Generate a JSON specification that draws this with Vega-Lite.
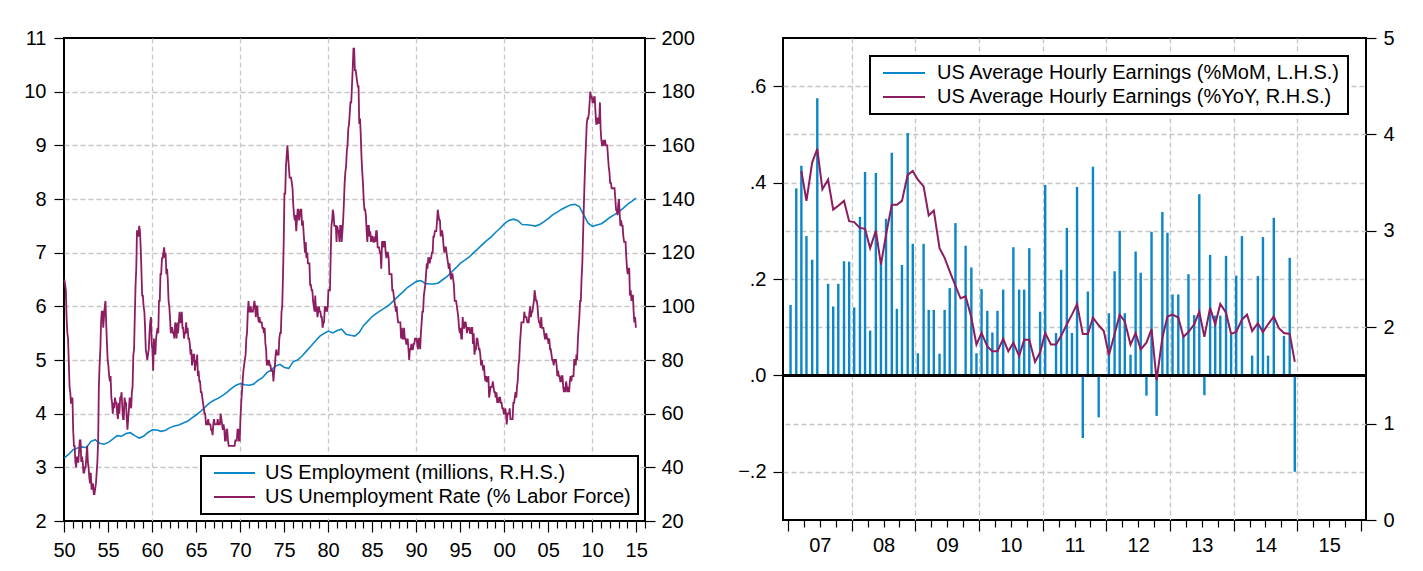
{
"$schema": "https://vega.github.io/schema/vega-lite/v6.json",
"background": "white",
"padding": {"left": 22, "top": 27, "right": 5, "bottom": 5},
"spacing": 40,
"datasets": {
"unemp": [
{"t":1950.04,"u":6.5},{"t":1950.13,"u":6.4},{"t":1950.21,"u":6.3},{"t":1950.29,"u":5.8},{"t":1950.38,"u":5.5},{"t":1950.46,"u":5.4},{"t":1950.54,"u":5.0},{"t":1950.63,"u":4.5},{"t":1950.71,"u":4.4},{"t":1950.79,"u":4.2},{"t":1950.88,"u":4.2},{"t":1950.96,"u":4.3},
{"t":1951.04,"u":3.7},{"t":1951.13,"u":3.4},{"t":1951.21,"u":3.4},{"t":1951.29,"u":3.1},{"t":1951.38,"u":3.0},{"t":1951.46,"u":3.2},{"t":1951.54,"u":3.1},{"t":1951.63,"u":3.1},{"t":1951.71,"u":3.3},{"t":1951.79,"u":3.5},{"t":1951.88,"u":3.5},{"t":1951.96,"u":3.1},
{"t":1952.04,"u":3.2},{"t":1952.13,"u":3.1},{"t":1952.21,"u":2.9},{"t":1952.29,"u":2.9},{"t":1952.38,"u":3.0},{"t":1952.46,"u":3.0},{"t":1952.54,"u":3.2},{"t":1952.63,"u":3.4},{"t":1952.71,"u":3.1},{"t":1952.79,"u":3.0},{"t":1952.88,"u":2.8},{"t":1952.96,"u":2.7},
{"t":1953.04,"u":2.9},{"t":1953.13,"u":2.6},{"t":1953.21,"u":2.6},{"t":1953.29,"u":2.7},{"t":1953.38,"u":2.5},{"t":1953.46,"u":2.5},{"t":1953.54,"u":2.6},{"t":1953.63,"u":2.7},{"t":1953.71,"u":2.9},{"t":1953.79,"u":3.1},{"t":1953.88,"u":3.5},{"t":1953.96,"u":4.5},
{"t":1954.04,"u":4.9},{"t":1954.13,"u":5.2},{"t":1954.21,"u":5.7},{"t":1954.29,"u":5.9},{"t":1954.38,"u":5.9},{"t":1954.46,"u":5.6},{"t":1954.54,"u":5.8},{"t":1954.63,"u":6.0},{"t":1954.71,"u":6.1},{"t":1954.79,"u":5.7},{"t":1954.88,"u":5.3},{"t":1954.96,"u":5.0},
{"t":1955.04,"u":4.9},{"t":1955.13,"u":4.7},{"t":1955.21,"u":4.6},{"t":1955.29,"u":4.7},{"t":1955.38,"u":4.3},{"t":1955.46,"u":4.2},{"t":1955.54,"u":4.0},{"t":1955.63,"u":4.2},{"t":1955.71,"u":4.1},{"t":1955.79,"u":4.3},{"t":1955.88,"u":4.2},{"t":1955.96,"u":4.2},
{"t":1956.04,"u":4.0},{"t":1956.13,"u":3.9},{"t":1956.21,"u":4.2},{"t":1956.29,"u":4.0},{"t":1956.38,"u":4.3},{"t":1956.46,"u":4.3},{"t":1956.54,"u":4.4},{"t":1956.63,"u":4.1},{"t":1956.71,"u":3.9},{"t":1956.79,"u":3.9},{"t":1956.88,"u":4.3},{"t":1956.96,"u":4.2},
{"t":1957.04,"u":4.2},{"t":1957.13,"u":3.9},{"t":1957.21,"u":3.7},{"t":1957.29,"u":3.9},{"t":1957.38,"u":4.1},{"t":1957.46,"u":4.3},{"t":1957.54,"u":4.2},{"t":1957.63,"u":4.1},{"t":1957.71,"u":4.4},{"t":1957.79,"u":4.5},{"t":1957.88,"u":5.1},{"t":1957.96,"u":5.2},
{"t":1958.04,"u":5.8},{"t":1958.13,"u":6.4},{"t":1958.21,"u":6.7},{"t":1958.29,"u":7.4},{"t":1958.38,"u":7.4},{"t":1958.46,"u":7.3},{"t":1958.54,"u":7.5},{"t":1958.63,"u":7.4},{"t":1958.71,"u":7.1},{"t":1958.79,"u":6.7},{"t":1958.88,"u":6.2},{"t":1958.96,"u":6.2},
{"t":1959.04,"u":6.0},{"t":1959.13,"u":5.9},{"t":1959.21,"u":5.6},{"t":1959.29,"u":5.2},{"t":1959.38,"u":5.1},{"t":1959.46,"u":5.0},{"t":1959.54,"u":5.1},{"t":1959.63,"u":5.2},{"t":1959.71,"u":5.5},{"t":1959.79,"u":5.7},{"t":1959.88,"u":5.8},{"t":1959.96,"u":5.3},
{"t":1960.04,"u":5.2},{"t":1960.13,"u":4.8},{"t":1960.21,"u":5.4},{"t":1960.29,"u":5.2},{"t":1960.38,"u":5.1},{"t":1960.46,"u":5.4},{"t":1960.54,"u":5.5},{"t":1960.63,"u":5.6},{"t":1960.71,"u":5.5},{"t":1960.79,"u":6.1},{"t":1960.88,"u":6.1},{"t":1960.96,"u":6.6},
{"t":1961.04,"u":6.6},{"t":1961.13,"u":6.9},{"t":1961.21,"u":6.9},{"t":1961.29,"u":7.0},{"t":1961.38,"u":7.1},{"t":1961.46,"u":6.9},{"t":1961.54,"u":7.0},{"t":1961.63,"u":6.6},{"t":1961.71,"u":6.7},{"t":1961.79,"u":6.5},{"t":1961.88,"u":6.1},{"t":1961.96,"u":6.0},
{"t":1962.04,"u":5.8},{"t":1962.13,"u":5.5},{"t":1962.21,"u":5.6},{"t":1962.29,"u":5.6},{"t":1962.38,"u":5.5},{"t":1962.46,"u":5.5},{"t":1962.54,"u":5.4},{"t":1962.63,"u":5.7},{"t":1962.71,"u":5.6},{"t":1962.79,"u":5.4},{"t":1962.88,"u":5.7},{"t":1962.96,"u":5.5},
{"t":1963.04,"u":5.7},{"t":1963.13,"u":5.9},{"t":1963.21,"u":5.7},{"t":1963.29,"u":5.7},{"t":1963.38,"u":5.9},{"t":1963.46,"u":5.6},{"t":1963.54,"u":5.6},{"t":1963.63,"u":5.4},{"t":1963.71,"u":5.5},{"t":1963.79,"u":5.5},{"t":1963.88,"u":5.7},{"t":1963.96,"u":5.5},
{"t":1964.04,"u":5.6},{"t":1964.13,"u":5.4},{"t":1964.21,"u":5.4},{"t":1964.29,"u":5.3},{"t":1964.38,"u":5.1},{"t":1964.46,"u":5.2},{"t":1964.54,"u":4.9},{"t":1964.63,"u":5.0},{"t":1964.71,"u":5.1},{"t":1964.79,"u":5.1},{"t":1964.88,"u":4.8},{"t":1964.96,"u":5.0},
{"t":1965.04,"u":4.9},{"t":1965.13,"u":5.1},{"t":1965.21,"u":4.7},{"t":1965.29,"u":4.8},{"t":1965.38,"u":4.6},{"t":1965.46,"u":4.6},{"t":1965.54,"u":4.4},{"t":1965.63,"u":4.4},{"t":1965.71,"u":4.3},{"t":1965.79,"u":4.2},{"t":1965.88,"u":4.1},{"t":1965.96,"u":4.0},
{"t":1966.04,"u":4.0},{"t":1966.13,"u":3.8},{"t":1966.21,"u":3.8},{"t":1966.29,"u":3.8},{"t":1966.38,"u":3.9},{"t":1966.46,"u":3.8},{"t":1966.54,"u":3.8},{"t":1966.63,"u":3.8},{"t":1966.71,"u":3.7},{"t":1966.79,"u":3.7},{"t":1966.88,"u":3.6},{"t":1966.96,"u":3.8},
{"t":1967.04,"u":3.9},{"t":1967.13,"u":3.8},{"t":1967.21,"u":3.8},{"t":1967.29,"u":3.8},{"t":1967.38,"u":3.8},{"t":1967.46,"u":3.9},{"t":1967.54,"u":3.8},{"t":1967.63,"u":3.8},{"t":1967.71,"u":3.8},{"t":1967.79,"u":4.0},{"t":1967.88,"u":3.9},{"t":1967.96,"u":3.8},
{"t":1968.04,"u":3.7},{"t":1968.13,"u":3.8},{"t":1968.21,"u":3.7},{"t":1968.29,"u":3.5},{"t":1968.38,"u":3.5},{"t":1968.46,"u":3.7},{"t":1968.54,"u":3.7},{"t":1968.63,"u":3.5},{"t":1968.71,"u":3.4},{"t":1968.79,"u":3.4},{"t":1968.88,"u":3.4},{"t":1968.96,"u":3.4},
{"t":1969.04,"u":3.4},{"t":1969.13,"u":3.4},{"t":1969.21,"u":3.4},{"t":1969.29,"u":3.4},{"t":1969.38,"u":3.4},{"t":1969.46,"u":3.5},{"t":1969.54,"u":3.5},{"t":1969.63,"u":3.5},{"t":1969.71,"u":3.7},{"t":1969.79,"u":3.7},{"t":1969.88,"u":3.5},{"t":1969.96,"u":3.5},
{"t":1970.04,"u":3.9},{"t":1970.13,"u":4.2},{"t":1970.21,"u":4.4},{"t":1970.29,"u":4.6},{"t":1970.38,"u":4.8},{"t":1970.46,"u":4.9},{"t":1970.54,"u":5.0},{"t":1970.63,"u":5.1},{"t":1970.71,"u":5.4},{"t":1970.79,"u":5.5},{"t":1970.88,"u":5.9},{"t":1970.96,"u":6.1},
{"t":1971.04,"u":5.9},{"t":1971.13,"u":5.9},{"t":1971.21,"u":6.0},{"t":1971.29,"u":5.9},{"t":1971.38,"u":5.9},{"t":1971.46,"u":5.9},{"t":1971.54,"u":6.0},{"t":1971.63,"u":6.1},{"t":1971.71,"u":6.0},{"t":1971.79,"u":5.8},{"t":1971.88,"u":6.0},{"t":1971.96,"u":6.0},
{"t":1972.04,"u":5.8},{"t":1972.13,"u":5.7},{"t":1972.21,"u":5.8},{"t":1972.29,"u":5.7},{"t":1972.38,"u":5.7},{"t":1972.46,"u":5.7},{"t":1972.54,"u":5.6},{"t":1972.63,"u":5.6},{"t":1972.71,"u":5.5},{"t":1972.79,"u":5.6},{"t":1972.88,"u":5.3},{"t":1972.96,"u":5.2},
{"t":1973.04,"u":4.9},{"t":1973.13,"u":5.0},{"t":1973.21,"u":4.9},{"t":1973.29,"u":5.0},{"t":1973.38,"u":4.9},{"t":1973.46,"u":4.9},{"t":1973.54,"u":4.8},{"t":1973.63,"u":4.8},{"t":1973.71,"u":4.8},{"t":1973.79,"u":4.6},{"t":1973.88,"u":4.8},{"t":1973.96,"u":4.9},
{"t":1974.04,"u":5.1},{"t":1974.13,"u":5.2},{"t":1974.21,"u":5.1},{"t":1974.29,"u":5.1},{"t":1974.38,"u":5.1},{"t":1974.46,"u":5.4},{"t":1974.54,"u":5.5},{"t":1974.63,"u":5.5},{"t":1974.71,"u":5.9},{"t":1974.79,"u":6.0},{"t":1974.88,"u":6.6},{"t":1974.96,"u":7.2},
{"t":1975.04,"u":8.1},{"t":1975.13,"u":8.1},{"t":1975.21,"u":8.6},{"t":1975.29,"u":8.8},{"t":1975.38,"u":9.0},{"t":1975.46,"u":8.8},{"t":1975.54,"u":8.6},{"t":1975.63,"u":8.4},{"t":1975.71,"u":8.4},{"t":1975.79,"u":8.4},{"t":1975.88,"u":8.3},{"t":1975.96,"u":8.2},
{"t":1976.04,"u":7.9},{"t":1976.13,"u":7.7},{"t":1976.21,"u":7.6},{"t":1976.29,"u":7.7},{"t":1976.38,"u":7.4},{"t":1976.46,"u":7.6},{"t":1976.54,"u":7.8},{"t":1976.63,"u":7.8},{"t":1976.71,"u":7.6},{"t":1976.79,"u":7.7},{"t":1976.88,"u":7.8},{"t":1976.96,"u":7.8},
{"t":1977.04,"u":7.5},{"t":1977.13,"u":7.6},{"t":1977.21,"u":7.4},{"t":1977.29,"u":7.2},{"t":1977.38,"u":7.0},{"t":1977.46,"u":7.2},{"t":1977.54,"u":6.9},{"t":1977.63,"u":7.0},{"t":1977.71,"u":6.8},{"t":1977.79,"u":6.8},{"t":1977.88,"u":6.8},{"t":1977.96,"u":6.4},
{"t":1978.04,"u":6.4},{"t":1978.13,"u":6.3},{"t":1978.21,"u":6.3},{"t":1978.29,"u":6.1},{"t":1978.38,"u":6.0},{"t":1978.46,"u":5.9},{"t":1978.54,"u":6.2},{"t":1978.63,"u":5.9},{"t":1978.71,"u":6.0},{"t":1978.79,"u":5.8},{"t":1978.88,"u":5.9},{"t":1978.96,"u":6.0},
{"t":1979.04,"u":5.9},{"t":1979.13,"u":5.9},{"t":1979.21,"u":5.8},{"t":1979.29,"u":5.8},{"t":1979.38,"u":5.6},{"t":1979.46,"u":5.7},{"t":1979.54,"u":5.7},{"t":1979.63,"u":6.0},{"t":1979.71,"u":5.9},{"t":1979.79,"u":6.0},{"t":1979.88,"u":5.9},{"t":1979.96,"u":6.0},
{"t":1980.04,"u":6.3},{"t":1980.13,"u":6.3},{"t":1980.21,"u":6.3},{"t":1980.29,"u":6.9},{"t":1980.38,"u":7.5},{"t":1980.46,"u":7.6},{"t":1980.54,"u":7.8},{"t":1980.63,"u":7.7},{"t":1980.71,"u":7.5},{"t":1980.79,"u":7.5},{"t":1980.88,"u":7.5},{"t":1980.96,"u":7.2},
{"t":1981.04,"u":7.5},{"t":1981.13,"u":7.4},{"t":1981.21,"u":7.4},{"t":1981.29,"u":7.2},{"t":1981.38,"u":7.5},{"t":1981.46,"u":7.5},{"t":1981.54,"u":7.2},{"t":1981.63,"u":7.4},{"t":1981.71,"u":7.6},{"t":1981.79,"u":7.9},{"t":1981.88,"u":8.3},{"t":1981.96,"u":8.5},
{"t":1982.04,"u":8.6},{"t":1982.13,"u":8.9},{"t":1982.21,"u":9.0},{"t":1982.29,"u":9.3},{"t":1982.38,"u":9.4},{"t":1982.46,"u":9.6},{"t":1982.54,"u":9.8},{"t":1982.63,"u":9.8},{"t":1982.71,"u":10.1},{"t":1982.79,"u":10.4},{"t":1982.88,"u":10.8},{"t":1982.96,"u":10.8},
{"t":1983.04,"u":10.4},{"t":1983.13,"u":10.4},{"t":1983.21,"u":10.3},{"t":1983.29,"u":10.2},{"t":1983.38,"u":10.1},{"t":1983.46,"u":10.1},{"t":1983.54,"u":9.4},{"t":1983.63,"u":9.5},{"t":1983.71,"u":9.2},{"t":1983.79,"u":8.8},{"t":1983.88,"u":8.5},{"t":1983.96,"u":8.3},
{"t":1984.04,"u":8.0},{"t":1984.13,"u":7.8},{"t":1984.21,"u":7.8},{"t":1984.29,"u":7.7},{"t":1984.38,"u":7.4},{"t":1984.46,"u":7.2},{"t":1984.54,"u":7.5},{"t":1984.63,"u":7.5},{"t":1984.71,"u":7.3},{"t":1984.79,"u":7.4},{"t":1984.88,"u":7.2},{"t":1984.96,"u":7.3},
{"t":1985.04,"u":7.3},{"t":1985.13,"u":7.2},{"t":1985.21,"u":7.2},{"t":1985.29,"u":7.3},{"t":1985.38,"u":7.2},{"t":1985.46,"u":7.4},{"t":1985.54,"u":7.4},{"t":1985.63,"u":7.1},{"t":1985.71,"u":7.1},{"t":1985.79,"u":7.1},{"t":1985.88,"u":7.0},{"t":1985.96,"u":7.0},
{"t":1986.04,"u":6.7},{"t":1986.13,"u":7.2},{"t":1986.21,"u":7.2},{"t":1986.29,"u":7.1},{"t":1986.38,"u":7.2},{"t":1986.46,"u":7.2},{"t":1986.54,"u":7.0},{"t":1986.63,"u":6.9},{"t":1986.71,"u":7.0},{"t":1986.79,"u":7.0},{"t":1986.88,"u":6.9},{"t":1986.96,"u":6.6},
{"t":1987.04,"u":6.6},{"t":1987.13,"u":6.6},{"t":1987.21,"u":6.6},{"t":1987.29,"u":6.3},{"t":1987.38,"u":6.3},{"t":1987.46,"u":6.2},{"t":1987.54,"u":6.1},{"t":1987.63,"u":6.0},{"t":1987.71,"u":5.9},{"t":1987.79,"u":6.0},{"t":1987.88,"u":5.8},{"t":1987.96,"u":5.7},
{"t":1988.04,"u":5.7},{"t":1988.13,"u":5.7},{"t":1988.21,"u":5.7},{"t":1988.29,"u":5.4},{"t":1988.38,"u":5.6},{"t":1988.46,"u":5.4},{"t":1988.54,"u":5.4},{"t":1988.63,"u":5.6},{"t":1988.71,"u":5.4},{"t":1988.79,"u":5.4},{"t":1988.88,"u":5.3},{"t":1988.96,"u":5.3},
{"t":1989.04,"u":5.4},{"t":1989.13,"u":5.2},{"t":1989.21,"u":5.0},{"t":1989.29,"u":5.2},{"t":1989.38,"u":5.2},{"t":1989.46,"u":5.3},{"t":1989.54,"u":5.2},{"t":1989.63,"u":5.2},{"t":1989.71,"u":5.3},{"t":1989.79,"u":5.3},{"t":1989.88,"u":5.4},{"t":1989.96,"u":5.4},
{"t":1990.04,"u":5.4},{"t":1990.13,"u":5.3},{"t":1990.21,"u":5.2},{"t":1990.29,"u":5.4},{"t":1990.38,"u":5.4},{"t":1990.46,"u":5.2},{"t":1990.54,"u":5.5},{"t":1990.63,"u":5.7},{"t":1990.71,"u":5.9},{"t":1990.79,"u":5.9},{"t":1990.88,"u":6.2},{"t":1990.96,"u":6.3},
{"t":1991.04,"u":6.4},{"t":1991.13,"u":6.6},{"t":1991.21,"u":6.8},{"t":1991.29,"u":6.7},{"t":1991.38,"u":6.9},{"t":1991.46,"u":6.9},{"t":1991.54,"u":6.8},{"t":1991.63,"u":6.9},{"t":1991.71,"u":6.9},{"t":1991.79,"u":7.0},{"t":1991.88,"u":7.0},{"t":1991.96,"u":7.3},
{"t":1992.04,"u":7.3},{"t":1992.13,"u":7.4},{"t":1992.21,"u":7.4},{"t":1992.29,"u":7.4},{"t":1992.38,"u":7.6},{"t":1992.46,"u":7.8},{"t":1992.54,"u":7.7},{"t":1992.63,"u":7.6},{"t":1992.71,"u":7.6},{"t":1992.79,"u":7.3},{"t":1992.88,"u":7.4},{"t":1992.96,"u":7.4},
{"t":1993.04,"u":7.3},{"t":1993.13,"u":7.1},{"t":1993.21,"u":7.0},{"t":1993.29,"u":7.1},{"t":1993.38,"u":7.1},{"t":1993.46,"u":7.0},{"t":1993.54,"u":6.9},{"t":1993.63,"u":6.8},{"t":1993.71,"u":6.7},{"t":1993.79,"u":6.8},{"t":1993.88,"u":6.6},{"t":1993.96,"u":6.5},
{"t":1994.04,"u":6.6},{"t":1994.13,"u":6.6},{"t":1994.21,"u":6.5},{"t":1994.29,"u":6.4},{"t":1994.38,"u":6.1},{"t":1994.46,"u":6.1},{"t":1994.54,"u":6.1},{"t":1994.63,"u":6.0},{"t":1994.71,"u":5.9},{"t":1994.79,"u":5.8},{"t":1994.88,"u":5.6},{"t":1994.96,"u":5.5},
{"t":1995.04,"u":5.6},{"t":1995.13,"u":5.4},{"t":1995.21,"u":5.4},{"t":1995.29,"u":5.8},{"t":1995.38,"u":5.6},{"t":1995.46,"u":5.6},{"t":1995.54,"u":5.7},{"t":1995.63,"u":5.7},{"t":1995.71,"u":5.6},{"t":1995.79,"u":5.5},{"t":1995.88,"u":5.6},{"t":1995.96,"u":5.6},
{"t":1996.04,"u":5.6},{"t":1996.13,"u":5.5},{"t":1996.21,"u":5.5},{"t":1996.29,"u":5.6},{"t":1996.38,"u":5.6},{"t":1996.46,"u":5.3},{"t":1996.54,"u":5.5},{"t":1996.63,"u":5.1},{"t":1996.71,"u":5.2},{"t":1996.79,"u":5.2},{"t":1996.88,"u":5.4},{"t":1996.96,"u":5.4},
{"t":1997.04,"u":5.3},{"t":1997.13,"u":5.2},{"t":1997.21,"u":5.2},{"t":1997.29,"u":5.1},{"t":1997.38,"u":4.9},{"t":1997.46,"u":5.0},{"t":1997.54,"u":4.9},{"t":1997.63,"u":4.8},{"t":1997.71,"u":4.9},{"t":1997.79,"u":4.7},{"t":1997.88,"u":4.6},{"t":1997.96,"u":4.7},
{"t":1998.04,"u":4.6},{"t":1998.13,"u":4.6},{"t":1998.21,"u":4.7},{"t":1998.29,"u":4.3},{"t":1998.38,"u":4.4},{"t":1998.46,"u":4.5},{"t":1998.54,"u":4.5},{"t":1998.63,"u":4.5},{"t":1998.71,"u":4.6},{"t":1998.79,"u":4.5},{"t":1998.88,"u":4.4},{"t":1998.96,"u":4.4},
{"t":1999.04,"u":4.3},{"t":1999.13,"u":4.4},{"t":1999.21,"u":4.2},{"t":1999.29,"u":4.3},{"t":1999.38,"u":4.2},{"t":1999.46,"u":4.3},{"t":1999.54,"u":4.3},{"t":1999.63,"u":4.2},{"t":1999.71,"u":4.2},{"t":1999.79,"u":4.1},{"t":1999.88,"u":4.1},{"t":1999.96,"u":4.0},
{"t":2000.04,"u":4.0},{"t":2000.13,"u":4.1},{"t":2000.21,"u":4.0},{"t":2000.29,"u":3.8},{"t":2000.38,"u":4.0},{"t":2000.46,"u":4.0},{"t":2000.54,"u":4.0},{"t":2000.63,"u":4.1},{"t":2000.71,"u":3.9},{"t":2000.79,"u":3.9},{"t":2000.88,"u":3.9},{"t":2000.96,"u":3.9},
{"t":2001.04,"u":4.2},{"t":2001.13,"u":4.2},{"t":2001.21,"u":4.3},{"t":2001.29,"u":4.4},{"t":2001.38,"u":4.3},{"t":2001.46,"u":4.5},{"t":2001.54,"u":4.6},{"t":2001.63,"u":4.9},{"t":2001.71,"u":5.0},{"t":2001.79,"u":5.3},{"t":2001.88,"u":5.5},{"t":2001.96,"u":5.7},
{"t":2002.04,"u":5.7},{"t":2002.13,"u":5.7},{"t":2002.21,"u":5.7},{"t":2002.29,"u":5.9},{"t":2002.38,"u":5.8},{"t":2002.46,"u":5.8},{"t":2002.54,"u":5.8},{"t":2002.63,"u":5.7},{"t":2002.71,"u":5.7},{"t":2002.79,"u":5.7},{"t":2002.88,"u":5.9},{"t":2002.96,"u":6.0},
{"t":2003.04,"u":5.8},{"t":2003.13,"u":5.9},{"t":2003.21,"u":5.9},{"t":2003.29,"u":6.0},{"t":2003.38,"u":6.1},{"t":2003.46,"u":6.3},{"t":2003.54,"u":6.2},{"t":2003.63,"u":6.1},{"t":2003.71,"u":6.1},{"t":2003.79,"u":6.0},{"t":2003.88,"u":5.8},{"t":2003.96,"u":5.7},
{"t":2004.04,"u":5.7},{"t":2004.13,"u":5.6},{"t":2004.21,"u":5.8},{"t":2004.29,"u":5.6},{"t":2004.38,"u":5.6},{"t":2004.46,"u":5.6},{"t":2004.54,"u":5.5},{"t":2004.63,"u":5.4},{"t":2004.71,"u":5.4},{"t":2004.79,"u":5.5},{"t":2004.88,"u":5.4},{"t":2004.96,"u":5.4},
{"t":2005.04,"u":5.3},{"t":2005.13,"u":5.4},{"t":2005.21,"u":5.2},{"t":2005.29,"u":5.2},{"t":2005.38,"u":5.1},{"t":2005.46,"u":5.0},{"t":2005.54,"u":5.0},{"t":2005.63,"u":4.9},{"t":2005.71,"u":5.0},{"t":2005.79,"u":5.0},{"t":2005.88,"u":5.0},{"t":2005.96,"u":4.9},
{"t":2006.04,"u":4.7},{"t":2006.13,"u":4.8},{"t":2006.21,"u":4.7},{"t":2006.29,"u":4.7},{"t":2006.38,"u":4.6},{"t":2006.46,"u":4.6},{"t":2006.54,"u":4.7},{"t":2006.63,"u":4.7},{"t":2006.71,"u":4.5},{"t":2006.79,"u":4.4},{"t":2006.88,"u":4.5},{"t":2006.96,"u":4.4},
{"t":2007.04,"u":4.6},{"t":2007.13,"u":4.5},{"t":2007.21,"u":4.4},{"t":2007.29,"u":4.5},{"t":2007.38,"u":4.4},{"t":2007.46,"u":4.6},{"t":2007.54,"u":4.7},{"t":2007.63,"u":4.6},{"t":2007.71,"u":4.7},{"t":2007.79,"u":4.7},{"t":2007.88,"u":4.7},{"t":2007.96,"u":5.0},
{"t":2008.04,"u":5.0},{"t":2008.13,"u":4.9},{"t":2008.21,"u":5.1},{"t":2008.29,"u":5.0},{"t":2008.38,"u":5.4},{"t":2008.46,"u":5.6},{"t":2008.54,"u":5.8},{"t":2008.63,"u":6.1},{"t":2008.71,"u":6.1},{"t":2008.79,"u":6.5},{"t":2008.88,"u":6.8},{"t":2008.96,"u":7.3},
{"t":2009.04,"u":7.8},{"t":2009.13,"u":8.3},{"t":2009.21,"u":8.7},{"t":2009.29,"u":9.0},{"t":2009.38,"u":9.4},{"t":2009.46,"u":9.5},{"t":2009.54,"u":9.5},{"t":2009.63,"u":9.6},{"t":2009.71,"u":9.8},{"t":2009.79,"u":10.0},{"t":2009.88,"u":9.9},{"t":2009.96,"u":9.9},
{"t":2010.04,"u":9.8},{"t":2010.13,"u":9.8},{"t":2010.21,"u":9.9},{"t":2010.29,"u":9.9},{"t":2010.38,"u":9.6},{"t":2010.46,"u":9.4},{"t":2010.54,"u":9.4},{"t":2010.63,"u":9.5},{"t":2010.71,"u":9.5},{"t":2010.79,"u":9.4},{"t":2010.88,"u":9.8},{"t":2010.96,"u":9.3},
{"t":2011.04,"u":9.1},{"t":2011.13,"u":9.0},{"t":2011.21,"u":9.0},{"t":2011.29,"u":9.1},{"t":2011.38,"u":9.0},{"t":2011.46,"u":9.1},{"t":2011.54,"u":9.0},{"t":2011.63,"u":9.0},{"t":2011.71,"u":9.0},{"t":2011.79,"u":8.8},{"t":2011.88,"u":8.6},{"t":2011.96,"u":8.5},
{"t":2012.04,"u":8.3},{"t":2012.13,"u":8.3},{"t":2012.21,"u":8.2},{"t":2012.29,"u":8.2},{"t":2012.38,"u":8.2},{"t":2012.46,"u":8.2},{"t":2012.54,"u":8.2},{"t":2012.63,"u":8.0},{"t":2012.71,"u":7.8},{"t":2012.79,"u":7.8},{"t":2012.88,"u":7.7},{"t":2012.96,"u":7.9},
{"t":2013.04,"u":8.0},{"t":2013.13,"u":7.7},{"t":2013.21,"u":7.5},{"t":2013.29,"u":7.6},{"t":2013.38,"u":7.5},{"t":2013.46,"u":7.5},{"t":2013.54,"u":7.3},{"t":2013.63,"u":7.2},{"t":2013.71,"u":7.2},{"t":2013.79,"u":7.2},{"t":2013.88,"u":6.9},{"t":2013.96,"u":6.7},
{"t":2014.04,"u":6.6},{"t":2014.13,"u":6.7},{"t":2014.21,"u":6.7},{"t":2014.29,"u":6.2},{"t":2014.38,"u":6.3},{"t":2014.46,"u":6.1},{"t":2014.54,"u":6.2},{"t":2014.63,"u":6.2},{"t":2014.71,"u":5.9},{"t":2014.79,"u":5.7},{"t":2014.88,"u":5.8},{"t":2014.96,"u":5.6}
],
"emp": [
{"t":1950.04,"e":43.5},{"t":1950.54,"e":44.9},{"t":1951.04,"e":46.6},{"t":1951.54,"e":47.2},{"t":1952.04,"e":47.6},{"t":1952.54,"e":47.3},{"t":1953.04,"e":49.6},{"t":1953.54,"e":50.3},
{"t":1954.04,"e":49.0},{"t":1954.54,"e":48.6},{"t":1955.04,"e":49.3},{"t":1955.54,"e":50.5},{"t":1956.04,"e":51.8},{"t":1956.54,"e":51.6},{"t":1957.04,"e":52.6},{"t":1957.54,"e":52.9},
{"t":1958.04,"e":51.8},{"t":1958.54,"e":50.9},{"t":1959.04,"e":51.6},{"t":1959.54,"e":53.0},{"t":1960.04,"e":54.0},{"t":1960.54,"e":53.9},{"t":1961.04,"e":53.4},{"t":1961.54,"e":53.8},
{"t":1962.04,"e":54.8},{"t":1962.54,"e":55.4},{"t":1963.04,"e":55.8},{"t":1963.54,"e":56.5},{"t":1964.04,"e":57.2},{"t":1964.54,"e":58.4},{"t":1965.04,"e":59.6},{"t":1965.54,"e":60.9},
{"t":1966.04,"e":62.5},{"t":1966.54,"e":64.0},{"t":1967.04,"e":65.0},{"t":1967.54,"e":65.8},{"t":1968.04,"e":66.8},{"t":1968.54,"e":68.0},{"t":1969.04,"e":69.4},{"t":1969.54,"e":70.6},
{"t":1970.04,"e":71.2},{"t":1970.54,"e":70.8},{"t":1971.04,"e":70.6},{"t":1971.54,"e":71.0},{"t":1972.04,"e":72.4},{"t":1972.54,"e":73.4},{"t":1973.04,"e":75.3},{"t":1973.54,"e":76.2},
{"t":1974.04,"e":77.8},{"t":1974.54,"e":78.4},{"t":1975.04,"e":77.2},{"t":1975.54,"e":76.9},{"t":1976.04,"e":79.4},{"t":1976.54,"e":80.0},{"t":1977.04,"e":81.5},{"t":1977.54,"e":83.3},
{"t":1978.04,"e":85.1},{"t":1978.54,"e":87.0},{"t":1979.04,"e":88.8},{"t":1979.54,"e":89.9},{"t":1980.04,"e":90.8},{"t":1980.54,"e":90.1},{"t":1981.04,"e":91.0},{"t":1981.54,"e":91.5},
{"t":1982.04,"e":89.6},{"t":1982.54,"e":89.2},{"t":1983.04,"e":88.9},{"t":1983.54,"e":90.3},{"t":1984.04,"e":92.9},{"t":1984.54,"e":94.6},{"t":1985.04,"e":96.3},{"t":1985.54,"e":97.5},
{"t":1986.04,"e":98.6},{"t":1986.54,"e":99.6},{"t":1987.04,"e":100.8},{"t":1987.54,"e":102.4},{"t":1988.04,"e":104.0},{"t":1988.54,"e":105.5},{"t":1989.04,"e":107.1},{"t":1989.54,"e":108.2},
{"t":1990.04,"e":109.3},{"t":1990.54,"e":109.6},{"t":1991.04,"e":108.5},{"t":1991.54,"e":108.3},{"t":1992.04,"e":108.3},{"t":1992.54,"e":108.7},{"t":1993.04,"e":110.0},{"t":1993.54,"e":111.2},
{"t":1994.04,"e":112.8},{"t":1994.54,"e":114.4},{"t":1995.04,"e":116.1},{"t":1995.54,"e":117.2},{"t":1996.04,"e":118.4},{"t":1996.54,"e":120.0},{"t":1997.04,"e":121.5},{"t":1997.54,"e":123.1},
{"t":1998.04,"e":124.6},{"t":1998.54,"e":125.9},{"t":1999.04,"e":127.6},{"t":1999.54,"e":129.1},{"t":2000.04,"e":130.8},{"t":2000.54,"e":132.0},{"t":2001.04,"e":132.5},{"t":2001.54,"e":132.0},
{"t":2002.04,"e":130.5},{"t":2002.54,"e":130.4},{"t":2003.04,"e":130.2},{"t":2003.54,"e":129.9},{"t":2004.04,"e":130.5},{"t":2004.54,"e":131.6},{"t":2005.04,"e":132.8},{"t":2005.54,"e":134.2},
{"t":2006.04,"e":135.1},{"t":2006.54,"e":136.2},{"t":2007.04,"e":137.0},{"t":2007.54,"e":137.8},{"t":2008.04,"e":138.0},{"t":2008.54,"e":137.2},{"t":2009.04,"e":134.1},{"t":2009.54,"e":131.0},
{"t":2010.04,"e":129.8},{"t":2010.54,"e":130.3},{"t":2011.04,"e":130.8},{"t":2011.54,"e":131.9},{"t":2012.04,"e":133.2},{"t":2012.54,"e":134.2},{"t":2013.04,"e":135.3},{"t":2013.54,"e":136.6},
{"t":2014.04,"e":138.1},{"t":2014.54,"e":139.2},{"t":2014.96,"e":140.3}
],
"ahe": [
{"t":2007.04,"mom":0.146,"yoy":null},{"t":2007.13,"mom":0.388,"yoy":null},{"t":2007.21,"mom":0.435,"yoy":3.62},{"t":2007.29,"mom":0.289,"yoy":3.31},{"t":2007.38,"mom":0.24,"yoy":3.71},{"t":2007.46,"mom":0.575,"yoy":3.85},{"t":2007.54,"mom":0,"yoy":3.43},{"t":2007.63,"mom":0.19,"yoy":3.53},{"t":2007.71,"mom":0.143,"yoy":3.22},{"t":2007.79,"mom":0.19,"yoy":3.26},{"t":2007.88,"mom":0.237,"yoy":3.31},{"t":2007.96,"mom":0.236,"yoy":3.1},
{"t":2008.04,"mom":0.141,"yoy":3.09},{"t":2008.13,"mom":0.329,"yoy":3.03},{"t":2008.21,"mom":0.422,"yoy":3.02},{"t":2008.29,"mom":0.093,"yoy":2.82},{"t":2008.38,"mom":0.42,"yoy":3.0},{"t":2008.46,"mom":0.233,"yoy":2.65},{"t":2008.54,"mom":0.325,"yoy":2.96},{"t":2008.63,"mom":0.462,"yoy":3.27},{"t":2008.71,"mom":0.138,"yoy":3.27},{"t":2008.79,"mom":0.229,"yoy":3.31},{"t":2008.88,"mom":0.503,"yoy":3.58},{"t":2008.96,"mom":0.273,"yoy":3.62},
{"t":2009.04,"mom":0.046,"yoy":3.53},{"t":2009.13,"mom":0.273,"yoy":3.46},{"t":2009.21,"mom":0.136,"yoy":3.16},{"t":2009.29,"mom":0.136,"yoy":3.21},{"t":2009.38,"mom":0.045,"yoy":2.82},{"t":2009.46,"mom":0.136,"yoy":2.72},{"t":2009.54,"mom":0.181,"yoy":2.58},{"t":2009.63,"mom":0.316,"yoy":2.43},{"t":2009.71,"mom":0,"yoy":2.3},{"t":2009.79,"mom":0.269,"yoy":2.32},{"t":2009.88,"mom":0.224,"yoy":2.1},{"t":2009.96,"mom":0.046,"yoy":1.82},
{"t":2010.04,"mom":0.179,"yoy":1.94},{"t":2010.13,"mom":0.134,"yoy":1.8},{"t":2010.21,"mom":0.089,"yoy":1.75},{"t":2010.29,"mom":0.134,"yoy":1.75},{"t":2010.38,"mom":0.178,"yoy":1.88},{"t":2010.46,"mom":0,"yoy":1.75},{"t":2010.54,"mom":0.266,"yoy":1.84},{"t":2010.63,"mom":0.178,"yoy":1.7},{"t":2010.71,"mom":0.178,"yoy":1.87},{"t":2010.79,"mom":0.264,"yoy":1.87},{"t":2010.88,"mom":0,"yoy":1.64},{"t":2010.96,"mom":0.132,"yoy":1.74},
{"t":2011.04,"mom":0.395,"yoy":1.94},{"t":2011.13,"mom":0,"yoy":1.82},{"t":2011.21,"mom":0.088,"yoy":1.82},{"t":2011.29,"mom":0.219,"yoy":1.91},{"t":2011.38,"mom":0.306,"yoy":2.03},{"t":2011.46,"mom":0.088,"yoy":2.13},{"t":2011.54,"mom":0.391,"yoy":2.24},{"t":2011.63,"mom":-0.13,"yoy":1.93},{"t":2011.71,"mom":0.174,"yoy":1.93},{"t":2011.79,"mom":0.433,"yoy":2.1},{"t":2011.88,"mom":-0.087,"yoy":2.02},{"t":2011.96,"mom":0,"yoy":1.96},
{"t":2012.04,"mom":0.129,"yoy":1.71},{"t":2012.13,"mom":0.216,"yoy":1.93},{"t":2012.21,"mom":0.3,"yoy":2.13},{"t":2012.29,"mom":0.129,"yoy":2.06},{"t":2012.38,"mom":0.043,"yoy":1.82},{"t":2012.46,"mom":0.257,"yoy":1.94},{"t":2012.54,"mom":0.213,"yoy":1.77},{"t":2012.63,"mom":-0.042,"yoy":1.84},{"t":2012.71,"mom":0.298,"yoy":1.98},{"t":2012.79,"mom":-0.084,"yoy":1.45},{"t":2012.88,"mom":0.339,"yoy":1.89},{"t":2012.96,"mom":0.296,"yoy":2.11},
{"t":2013.04,"mom":0.168,"yoy":2.13},{"t":2013.13,"mom":0.168,"yoy":2.1},{"t":2013.21,"mom":0.081,"yoy":1.9},{"t":2013.29,"mom":0.21,"yoy":1.95},{"t":2013.38,"mom":0.125,"yoy":2.03},{"t":2013.46,"mom":0.376,"yoy":2.16},{"t":2013.54,"mom":-0.041,"yoy":1.9},{"t":2013.63,"mom":0.25,"yoy":2.2},{"t":2013.71,"mom":0.124,"yoy":2.03},{"t":2013.79,"mom":0.124,"yoy":2.24},{"t":2013.88,"mom":0.248,"yoy":2.15},{"t":2013.96,"mom":0.084,"yoy":1.93},
{"t":2014.04,"mom":0.207,"yoy":1.95},{"t":2014.13,"mom":0.289,"yoy":2.08},{"t":2014.21,"mom":0,"yoy":2.13},{"t":2014.29,"mom":0.041,"yoy":1.96},{"t":2014.38,"mom":0.206,"yoy":2.04},{"t":2014.46,"mom":0.287,"yoy":1.95},{"t":2014.54,"mom":0.041,"yoy":2.03},{"t":2014.63,"mom":0.327,"yoy":2.11},{"t":2014.71,"mom":0,"yoy":1.99},{"t":2014.79,"mom":0.082,"yoy":1.94},{"t":2014.88,"mom":0.244,"yoy":1.93},{"t":2014.96,"mom":-0.2,"yoy":1.64}
]
},
"hconcat": [
{
"width": 581,
"height": 483,
"layer": [
{
"data": {"name": "emp"},
"mark": {"type": "line", "strokeWidth": 1.6},
"encoding": {
"x": {"field": "t", "type": "quantitative", "scale": {"domain": [1950, 2016], "nice": false, "zero": false},
"axis": {"title": null, "orient": "bottom", "tickCount": 500, "values": [1950,1951,1952,1953,1954,1955,1956,1957,1958,1959,1960,1961,1962,1963,1964,1965,1966,1967,1968,1969,1970,1971,1972,1973,1974,1975,1976,1977,1978,1979,1980,1981,1982,1983,1984,1985,1986,1987,1988,1989,1990,1991,1992,1993,1994,1995,1996,1997,1998,1999,2000,2001,2002,2003,2004,2005,2006,2007,2008,2009,2010,2011,2012,2013,2014,2015,2016],
"labelExpr": "datum.value % 5 === 0 && datum.value < 2016 ? slice(toString(datum.value), 2) : ''",
"labelOverlap": false, "labelFlush": false, "labelPadding": 8,
"tickSize": {"condition": {"test": "datum.value % 5 === 0", "value": 11}, "value": 7},
"grid": true,
"gridOpacity": {"condition": {"test": "datum.value % 10 === 0 && datum.value > 1950", "value": 1}, "value": 0}}},
"y": {"field": "e", "type": "quantitative", "scale": {"domain": [20, 200], "nice": false, "zero": false},
"axis": {"title": null, "orient": "right", "tickCount": 100, "format": "d", "values": [20,40,60,80,100,120,140,160,180,200], "grid": false, "labelPadding": 6}},
"color": {"datum": "US Employment (millions, R.H.S.)", "type": "nominal",
"scale": {"domain": ["US Employment (millions, R.H.S.)", "US Unemployment Rate (% Labor Force)"], "range": ["#0b86c6", "#8c1d60"]},
"legend": {"title": null, "orient": "bottom-right", "offset": 7, "symbolType": "stroke", "symbolStrokeWidth": 2, "symbolSize": 1681, "symbolOffset": 5, "labelOffset": 9, "padding": 7, "rowPadding": 4, "clipHeight": 20, "labelLimit": 1000, "strokeColor": "black", "fillColor": "white"}}
}
},
{
"data": {"name": "unemp"},
"mark": {"type": "line", "strokeWidth": 1.8},
"encoding": {
"x": {"field": "t", "type": "quantitative"},
"y": {"field": "u", "type": "quantitative", "scale": {"domain": [2, 11], "nice": false, "zero": false},
"axis": {"title": null, "orient": "left", "tickCount": 100, "format": "d", "values": [2,3,4,5,6,7,8,9,10,11], "grid": true, "labelPadding": 8,
"gridOpacity": {"condition": {"test": "datum.value > 2 && datum.value < 11", "value": 1}, "value": 0}}},
"color": {"datum": "US Unemployment Rate (% Labor Force)", "type": "nominal"}
}
}
],
"resolve": {"scale": {"y": "independent"}}
},
{
"width": 583,
"height": 482,
"data": {"name": "ahe"},
"layer": [
{
"layer": [
{
"mark": {"type": "bar", "width": 2.4},
"encoding": {
"x": {"field": "t", "type": "quantitative", "scale": {"domain": [2007, 2016], "nice": false, "zero": false},
"axis": {"title": null, "orient": "bottom", "tickCount": 500, "values": [2007,2007.25,2007.5,2007.75,2008,2008.25,2008.5,2008.75,2009,2009.25,2009.5,2009.75,2010,2010.25,2010.5,2010.75,2011,2011.25,2011.5,2011.75,2012,2012.25,2012.5,2012.75,2013,2013.25,2013.5,2013.75,2014,2014.25,2014.5,2014.75,2015,2015.25,2015.5,2015.75,2016],
"labelExpr": "(datum.value * 4) % 4 === 2 ? slice(toString(floor(datum.value)), 2) : ''",
"labelOverlap": false, "labelFlush": false, "labelPadding": 8,
"tickSize": {"condition": {"test": "datum.value % 1 === 0", "value": 11}, "value": 7},
"grid": true,
"gridOpacity": {"condition": {"test": "datum.value % 1 === 0 && datum.value > 2007 && datum.value < 2016", "value": 1}, "value": 0}}},
"y": {"field": "mom", "type": "quantitative", "scale": {"domain": [-0.3, 0.7], "nice": false, "zero": false},
"axis": {"title": null, "orient": "left", "tickCount": 100, "values": [-0.2, 0, 0.2, 0.4, 0.6], "grid": true, "labelPadding": 7,
"labelExpr": "replace(format(datum.value, '.1f'), '0.', '.')"}},
"color": {"datum": "US Average Hourly Earnings (%MoM, L.H.S.)", "type": "nominal",
"scale": {"domain": ["US Average Hourly Earnings (%MoM, L.H.S.)", "US Average Hourly Earnings (%YoY, R.H.S.)"], "range": ["#0b86c6", "#8c1d60"]},
"legend": {"title": null, "orient": "top-right", "offset": 18, "symbolType": "stroke", "symbolStrokeWidth": 2, "symbolSize": 1764, "symbolOffset": 5, "labelOffset": 11, "padding": 7, "rowPadding": 4, "clipHeight": 20, "labelLimit": 1000, "strokeColor": "black", "fillColor": "white"}}
}
},
{
"mark": {"type": "rule", "color": "black", "strokeWidth": 1.5},
"encoding": {"y": {"datum": 0, "type": "quantitative"}}
}
]
},
{
"mark": {"type": "line", "strokeWidth": 2},
"encoding": {
"x": {"field": "t", "type": "quantitative"},
"y": {"field": "yoy", "type": "quantitative", "scale": {"domain": [0, 5], "nice": false, "zero": false},
"axis": {"title": null, "orient": "right", "tickCount": 100, "format": "d", "values": [0,1,2,3,4,5], "grid": true, "labelPadding": 7,
"gridOpacity": {"condition": {"test": "datum.value > 0 && datum.value < 5", "value": 1}, "value": 0}}},
"color": {"datum": "US Average Hourly Earnings (%YoY, R.H.S.)", "type": "nominal"}
}
}
],
"resolve": {"scale": {"y": "independent"}}
}
],
"resolve": {"scale": {"color": "independent"}, "legend": {"color": "independent"}},
"config": {
"font": "Liberation Sans",
"view": {"stroke": "black", "strokeWidth": 2},
"axis": {"labelFont": "Liberation Sans", "labelFontSize": 20, "labelColor": "black", "tickColor": "black", "tickWidth": 1.2, "tickSize": 10, "domain": false, "labelOverlap": false, "gridColor": "#c6c6c6", "gridDash": [5, 3], "gridWidth": 1.3},
"legend": {"labelFont": "Liberation Sans", "labelFontSize": 20, "labelColor": "black", "strokeWidth": 2}
}
}
